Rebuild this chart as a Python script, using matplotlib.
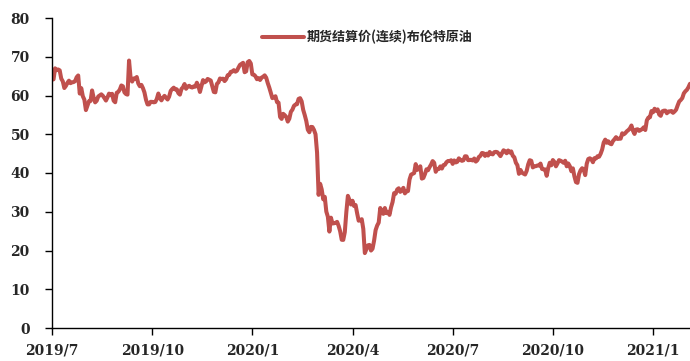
import matplotlib
matplotlib.use("Agg")
import matplotlib.pyplot as plt

# Brent crude futures settlement (continuous), daily trading days from 2019-07-08
prices_2019 = [
    64.11, 64.16, 67.01, 66.52, 66.72,
    66.48, 64.35, 63.66, 61.93, 62.47,
    63.26, 63.83, 63.18, 63.39, 63.46,
    63.71, 64.72, 65.17, 60.50, 61.89,
    59.81, 58.94, 56.23, 57.38, 58.53,
    58.57, 61.30, 59.48, 58.23, 58.64,
    59.74, 60.03, 60.30, 59.92, 59.34,
    58.70, 59.51, 60.49, 60.08, 60.43,
    58.66, 58.26, 60.70, 60.95, 61.54,
    62.59, 62.38, 60.81, 60.38, 60.22,
    69.02, 64.55, 63.60, 64.40, 64.28,
    64.77, 63.10, 62.39, 62.74, 61.91,
    60.78, 58.89, 57.69, 57.71, 58.37,
    58.35, 58.24, 58.32, 59.10, 60.51,
    59.35, 58.74, 59.42, 59.91, 59.42,
    58.96, 59.70, 61.17, 61.67, 62.02,
    61.57, 61.59, 60.61, 60.23, 61.69,
    62.13, 62.96, 61.74, 62.29, 62.51,
    62.18, 62.06, 62.37, 62.28, 63.30,
    62.44, 60.91, 62.40, 63.97, 63.39,
    63.65, 64.27, 64.06, 63.87, 62.43,
    60.92, 60.82, 62.99, 63.39, 64.39,
    64.25, 64.34, 63.72, 64.20, 65.22,
    65.34, 66.10, 66.17, 66.54, 66.14,
    66.39, 67.20, 67.92, 68.16,
    68.44, 66.00,
]
prices_2020 = [
    66.25, 68.60,
    68.91, 68.27, 65.44, 65.37, 64.98,
    64.20, 64.49, 64.00, 64.62, 64.85,
    65.20, 64.59, 63.21, 62.04, 60.69,
    59.32, 59.51, 59.81, 58.29, 58.16,
    54.45, 53.96, 55.28, 54.93, 54.47,
    53.27, 54.01, 55.79, 56.34, 57.32,
    57.67, 57.75, 59.12, 59.31, 58.50,
    56.30, 54.95, 53.43, 51.17, 50.52,
    51.90, 51.86, 51.13, 49.99, 45.27,
    34.36, 37.22, 35.79, 33.22, 33.85,
    30.05, 28.73, 24.88, 28.47, 26.98,
    27.03, 27.15, 27.39, 26.34, 24.93,
    22.76, 22.74, 24.74, 29.94, 34.11,
    33.05, 31.87, 32.84, 31.48,
    31.74, 29.60, 27.69, 27.82, 28.08,
    25.57, 19.33, 20.37, 21.33, 21.44,
    19.99, 20.46, 22.54, 25.27, 26.44,
    27.20, 30.97, 29.72, 29.46, 30.97,
    29.63, 29.98, 29.19, 31.13, 32.50,
    34.81, 34.65, 35.75, 36.06, 35.13,
    35.53, 36.17, 34.74, 35.29, 35.33,
    38.32, 39.57, 39.79, 39.99, 42.30,
    40.80, 41.18, 41.73, 38.55, 38.73,
    39.72, 40.96, 40.71, 41.51, 42.19,
    43.08, 42.63, 40.31, 41.05, 41.02,
    41.71, 41.15, 42.03, 42.14, 42.80,
    43.10, 43.08, 43.29, 42.35, 43.24,
    42.72, 42.90, 43.79, 43.37, 43.14,
    43.28, 44.32, 44.29, 43.31, 43.34,
    43.41, 43.22, 43.75, 42.94, 43.30,
    44.15, 44.43, 45.17, 45.09, 44.40,
    44.99, 44.50, 45.43, 44.96, 44.80,
    45.37, 45.46, 45.37, 44.90, 44.35,
    45.13, 45.86, 45.64, 45.09, 45.81,
    45.28, 45.58, 44.43, 44.07, 42.66,
    42.01, 39.78, 40.79, 40.06, 39.83,
    39.61, 40.53, 42.22, 43.30, 43.15,
    41.44, 41.72, 41.77, 41.94, 41.92,
    42.43, 41.03, 40.95, 40.93, 39.27,
    41.29, 42.65, 41.99, 43.34, 42.85,
    41.72, 42.45, 43.32, 43.16, 42.93,
    42.62, 43.16, 41.73, 42.46, 41.77,
    40.46, 41.20, 39.12, 37.65, 37.46,
    39.71, 40.71, 41.23, 40.93, 39.45,
    42.40, 43.61, 43.80, 43.53, 42.78,
    43.82, 43.75, 44.34, 44.20, 44.96,
    46.06, 47.86, 48.61, 47.80, 48.18,
    47.59, 47.42, 48.25, 48.71, 49.25,
    48.79, 48.84, 48.86, 50.25, 49.97,
    50.29, 50.76, 51.08, 51.50, 52.26,
    50.91, 50.08, 51.20, 51.29,
    50.86, 51.09, 51.34, 51.80,
]
prices_2021 = [
    51.09, 53.60, 54.30, 54.38, 55.99,
    55.66, 56.58, 56.06, 56.42, 55.10,
    54.75, 55.90, 56.08, 56.10, 55.41,
    55.88, 55.91, 56.00, 55.53, 55.88,
    56.35, 57.46, 58.46, 58.84, 59.34,
    60.56, 61.09, 61.47, 62.14, 63.03,
]
prices = prices_2019 + prices_2020 + prices_2021

tick_labels = ["2019/7", "2019/10", "2020/1", "2020/4", "2020/7", "2020/10", "2021/1"]
tick_step = 65  # trading days between labelled categories
y_ticks = [0, 10, 20, 30, 40, 50, 60, 70, 80]
series_name = "期货结算价(连续)布伦特原油"

line_color = "#C0504D"
text_color = "#262626"

fig = plt.figure(figsize=(6.9, 3.61), dpi=100)
ax = fig.add_axes([52 / 690, 1 - 328 / 361, 1 - 52 / 690, (328 - 18) / 361])

x = list(range(len(prices)))
ax.plot(x, prices, color=line_color, lw=2.9, solid_joinstyle="round",
        solid_capstyle="round", label=series_name)

ax.set_xlim(0, len(prices) - 1)
ax.set_ylim(0, 80)
ax.set_yticks(y_ticks)
ax.set_xticks([i * tick_step for i in range(len(tick_labels))])

tick_font = dict(family="DejaVu Serif", weight="bold", size=10)
ax.set_xticklabels(tick_labels, fontdict=tick_font, color=text_color)
ax.set_yticklabels([str(v) for v in y_ticks], fontdict=tick_font, color=text_color)

for side in ("top", "right"):
    ax.spines[side].set_visible(False)
for side in ("left", "bottom"):
    ax.spines[side].set_color("#000000")
    ax.spines[side].set_linewidth(1.0)
ax.tick_params(axis="y", direction="out", length=5, width=1, pad=11, colors="#000000", labelcolor=text_color)
ax.tick_params(axis="x", direction="out", length=5, width=1, pad=6, colors="#000000", labelcolor=text_color)

leg = ax.legend(loc="center left", bbox_to_anchor=((262 - 52) / 638, 1 - (37 - 18) / 310),
                frameon=False, handlelength=3.2, handletextpad=0.2, borderaxespad=0,
                borderpad=0,
                prop=dict(family=["Noto Sans CJK SC", "DejaVu Sans"], weight="bold", size=9.4))
for t in leg.get_texts():
    t.set_color(text_color)

fig.savefig("out.png", dpi=100)
